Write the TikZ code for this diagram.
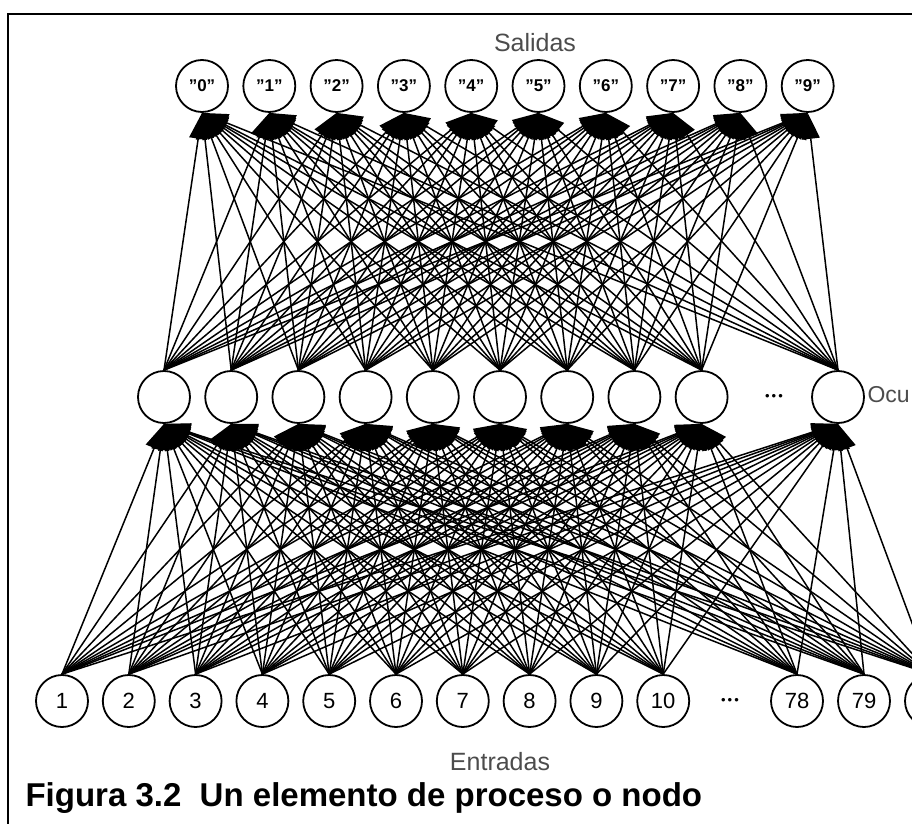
\documentclass[tikz,border=0pt]{standalone}
\usepackage{fontspec}
\setmainfont{Liberation Sans}
\usetikzlibrary{arrows.meta}
\tikzset{
  neuron/.style={circle,draw=black,line width=1.8pt,minimum size=52pt,inner sep=0pt,fill=white},
  syn/.style={-{Triangle[length=26pt,width=18pt]},line width=1.5pt},
  layername/.style={text=black!70,font=\fontsize{25}{30}\selectfont},
  gap/.style={font=\fontsize{13}{16}\selectfont},
}
\begin{document}
\begin{tikzpicture}[x=1pt,y=-1pt]
\useasboundingbox (0,0) rectangle (912,824);
\clip (0,0) rectangle (912,824);
% \draw[help lines] (0,0) grid (912,824);
\draw[line width=2pt] (912,14) -- (8,14) -- (8,824);
%
\node (sal) [layername] at (535,43) {Salidas};
\foreach \k in {0,...,9}
  \node (o\k) [neuron,font=\bfseries\fontsize{17}{20}\selectfont] at ({202+67.3*\k},86) {"\k"};
%
\foreach \k in {1,...,9}
  \node (h\k) [neuron] at ({164+67.2*(\k-1)},397) {};
\node (hdots) [gap] at (774,397) {\textbullet\,\textbullet\,\textbullet};
\node (h10) [neuron] at (838,397) {};
\node (ocu) [layername,anchor=west,font=\fontsize{23}{28}\selectfont] at (864,395) {Ocu};
%
\foreach \k in {1,...,10}
  \node (i\k) [neuron,font=\fontsize{22}{26}\selectfont] at ({62+66.8*(\k-1)},701) {\k};
\node (idots) [gap] at (730,701) {\textbullet\,\textbullet\,\textbullet};
\node (i78) [neuron,font=\fontsize{22}{26}\selectfont] at (797,701) {78};
\node (i79) [neuron,font=\fontsize{22}{26}\selectfont] at (864,701) {79};
\node (i80) [neuron] at (931,701) {};
\node (ent) [layername] at (500,762) {Entradas};
%
\foreach \a in {1,2,3,4,5,6,7,8,9,10,78,79,80}
  \foreach \b in {1,...,10}
    \draw[syn] (i\a.north) -- (h\b.south);
\foreach \b in {1,...,10}
  \foreach \k in {0,...,9}
    \draw[syn] (h\b.north) -- (o\k.south);
%
\node (cap) [anchor=base west,font=\bfseries\fontsize{33}{38}\selectfont] at (22,806)
  {Figura 3.2\ \ Un elemento de proceso o nodo};
\end{tikzpicture}
\end{document}
